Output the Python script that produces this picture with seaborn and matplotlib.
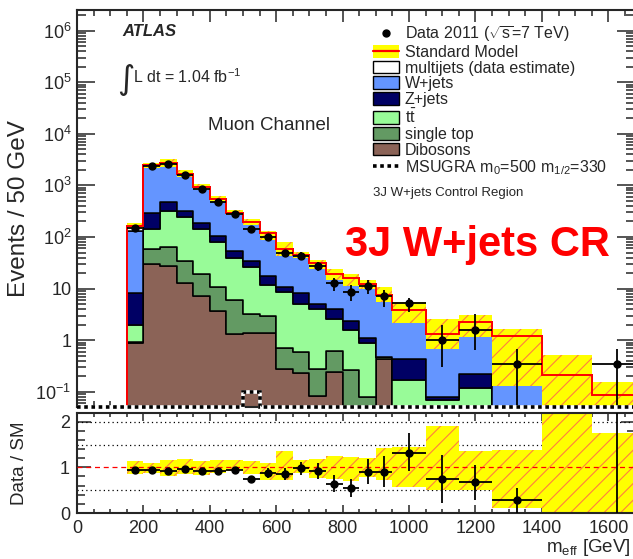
import numpy as np
import pandas as pd
import matplotlib
matplotlib.use("Agg")
import matplotlib.pyplot as plt
import seaborn as sns
from matplotlib.patches import Patch
from matplotlib.lines import Line2D
from matplotlib.ticker import FixedLocator, FixedFormatter, MultipleLocator, LogLocator, NullFormatter

# ---------------- data ----------------
edges = [150, 200, 250, 300, 350, 400, 450, 500, 550, 600, 650, 700, 750,
         800, 850, 900, 950, 1050, 1150, 1250, 1400, 1550, 1700]

dibosons   = [0.9, 30, 27, 12.8, 7.2, 3.7, 1.35, 1.37, 1.37, 0.28, 0.23, 0.082,
              0.24, 0, 0, 0.43, 0, 0, 0, 0, 0, 0]
single_top = [0.02, 28, 37, 21.2, 12.2, 6.9, 4.55, 1.93, 1.53, 0.42, 0.37, 0.198,
              0.37, 0.27, 0.08, 0.04, 0, 0, 0, 0, 0, 0]
ttbar      = [1.08, 85, 261, 213, 125.6, 68.4, 34.1, 22.7, 8.8, 7.9, 4.4, 3.82,
              1.99, 1.33, 0.82, 0, 0.17, 0.07, 0.12, 0, 0, 0]
zjets      = [6.3, 146, 160, 78, 45, 26, 13, 8, 5.6, 2.4, 3.3, 0.9,
              1.5, 0.77, 0.2, 0, 0.27, 0.01, 0.105, 0, 0, 0]
wjets      = [122.7, 2211, 2285, 1375, 760, 435, 243, 161, 100.7, 48, 36.7, 26,
              15.5, 13.63, 11.4, 7.03, 3.36, 1.27, 2.045, 1.2, 0.21, 0.088]
multijets  = [32, 0, 0, 0, 0, 0, 0, 0, 0, 0, 0, 0,
              0, 0, 0, 0, 0, 0, 0, 0, 0, 0]

# relative SM uncertainty band
band_up = [1.13, 1.10, 1.16, 1.19, 1.14, 1.15, 1.15, 1.13, 1.09, 1.35, 1.16, 1.18,
           1.25, 1.22, 1.20, 1.43, 1.45, 1.91, 1.35, 1.38, 2.43, 1.76]
band_dn = [0.86, 0.87, 0.81, 0.86, 0.84, 0.87, 0.91, 0.86, 0.73, 0.73, 0.87, 0.76,
           0.74, 0.69, 0.79, 0.73, 0.57, 0.51, 0.51, 0.11, 0.0, 0.0]

# data (events / 50 GeV), NaN = no entry
data    = [150, 2350, 2570, 1620, 845, 485, 275, 143, 100, 50, 43.6, 27.7,
           12.6, 8.7, 11.4, 7.1, 5.2, 1.0, 1.56, 0.34, np.nan, 0.34]
data_lo = [12, 48, 51, 40, 29, 22, 17, 12, 10, 7, 6.6, 5.3,
           3.4, 3.0, 3.4, 2.7, 1.7, 0.7, 0.9, 0.339, np.nan, 0.339]
data_hi = [12, 48, 51, 40, 29, 22, 17, 12, 10, 7, 6.6, 5.3,
           3.6, 3.2, 3.6, 2.2, 1.3, 0.96, 1.7, 0.33, np.nan, 0.33]

# Data / SM
ratio    = [0.945, 0.95, 0.93, 0.97, 0.92, 0.92, 0.95, 0.74, 0.87, 0.86, 0.98, 0.92,
            0.64, 0.545, 0.90, 0.90, 1.32, 0.75, 0.67, 0.28, np.nan, 3.9]
ratio_lo = [0.03, 0.02, 0.02, 0.025, 0.03, 0.04, 0.05, 0.05, 0.11, 0.13, 0.14, 0.17,
            0.19, 0.2, 0.27, 0.34, 0.41, 0.53, 0.38, 0.28, np.nan, 3.9]
ratio_hi = [0.03, 0.02, 0.02, 0.025, 0.03, 0.04, 0.05, 0.05, 0.11, 0.13, 0.14, 0.17,
            0.19, 0.2, 0.28, 0.34, 0.44, 0.52, 0.38, 0.27, np.nan, 4.0]

# MSUGRA signal (edges / values)
sig_edges = [0, 500, 550, 1700]
sig_vals  = [0.0, 0.1, 0.0]

processes = ["multijets (data estimate)", "W+jets", "Z+jets", r"t$\bar{\rm t}$",
             "single top", "Dibosons"]
colors = {"multijets (data estimate)": "#ffffff", "W+jets": "#6495ff",
          "Z+jets": "#000064", r"t$\bar{\rm t}$": "#98fb98",
          "single top": "#639a63", "Dibosons": "#8b6357"}

# ---------------- style ----------------
sns.set_style("ticks")
plt.rcParams["font.family"] = ["Liberation Sans", "DejaVu Sans"]
plt.rcParams["mathtext.fontset"] = "custom"
plt.rcParams["mathtext.rm"] = "Liberation Sans"
plt.rcParams["mathtext.it"] = "Liberation Sans:italic"
plt.rcParams["mathtext.bf"] = "Liberation Sans:bold"
plt.rcParams["hatch.linewidth"] = 0.8
plt.rcParams["hatch.color"] = "#ff7f3f"

W, H = 633, 559
fig = plt.figure(figsize=(W / 100, H / 100), dpi=100)
axL, axR = 77 / W, 1.003
ax = fig.add_axes([axL, 1 - 407 / H, axR - axL, 397 / H])
rx = fig.add_axes([axL, 1 - 513 / H, axR - axL, 100 / H])

edges_a = np.array(edges, float)
centers = 0.5 * (edges_a[1:] + edges_a[:-1])
halfw = 0.5 * (edges_a[1:] - edges_a[:-1])

ax.set_yscale("log")
ymin, ymax = 0.051, 2.5e6
ax.set_ylim(ymin, ymax)
xmax = 1680
ax.set_xlim(0, xmax)

# stacked MC with seaborn
comp = {"multijets (data estimate)": multijets, "W+jets": wjets, "Z+jets": zjets,
        r"t$\bar{\rm t}$": ttbar, "single top": single_top, "Dibosons": dibosons}
rows = []
for p in processes:
    for c, v in zip(centers, comp[p]):
        rows.append({"x": c, "w": v, "proc": p})
df = pd.DataFrame(rows)
sns.histplot(data=df, x="x", weights="w", hue="proc", hue_order=processes,
             bins=edges, multiple="stack", element="step", fill=True,
             palette=colors, alpha=1, edgecolor="black", linewidth=1.1,
             legend=False, ax=ax, zorder=1)

sm = np.sum([np.array(comp[p], float) for p in processes], axis=0)
up = sm * np.array(band_up)
dn = sm * np.array(band_dn)
ax.stairs(up, edges_a, baseline=dn, fill=True, facecolor="#ffff00",
          edgecolor="#ff7f3f", hatch="//", linewidth=0, zorder=2)
ax.stairs(sm, edges_a, baseline=0, color="#ff0000", linewidth=1.4, zorder=3)

d = np.array(data, float)
ax.errorbar(centers, d, xerr=halfw, yerr=[data_lo, data_hi], fmt="o",
            color="black", ms=5, elinewidth=1.3, capsize=0, zorder=5)

# signal (white/black dashed)
sv = np.clip(np.array(sig_vals), ymin, None)
ax.stairs(sv, sig_edges, baseline=None, color="white", linewidth=2.6,
          zorder=6, clip_on=False)
ax.stairs(sv, sig_edges, baseline=None, color="black", linewidth=2.6,
          linestyle=(0, (1.0, 1.0)), zorder=7, clip_on=False)

# axes formatting (main)
dec = [0.1, 1, 10, 100, 1e3, 1e4, 1e5, 1e6]
declab = [r"$10^{-1}$", "1", "10", r"$10^{2}$", r"$10^{3}$", r"$10^{4}$",
          r"$10^{5}$", r"$10^{6}$"]
ax.yaxis.set_major_locator(FixedLocator(dec))
ax.yaxis.set_major_formatter(FixedFormatter(declab))
ax.yaxis.set_minor_locator(LogLocator(base=10, subs=np.arange(2, 10), numticks=30))
ax.yaxis.set_minor_formatter(NullFormatter())
ax.xaxis.set_major_locator(MultipleLocator(200))
ax.xaxis.set_minor_locator(MultipleLocator(50))
ax.tick_params(axis="both", which="both", direction="in", top=True, right=True,
               labelbottom=False, width=1.1)
ax.tick_params(axis="y", which="major", length=13, labelsize=13, pad=4)
ax.tick_params(axis="y", which="minor", length=6.5)
ax.tick_params(axis="x", which="major", length=8.5)
ax.tick_params(axis="x", which="minor", length=4.3)
for s in ax.spines.values():
    s.set_linewidth(1.5)
ax.set_ylabel("Events / 50 GeV", fontsize=17.5)
ax.yaxis.set_label_coords(-0.085, 0.5)

# ratio panel
rx.set_xlim(0, xmax)
rx.set_ylim(0, 2.19)
for yv in [0.5, 1.5, 2.0]:
    rx.axhline(yv, color="black", linestyle=(0, (1, 2.5)), linewidth=0.9, zorder=1)
rup = np.array(band_up)
rdn = np.array(band_dn)
rx.stairs(rup, edges_a, baseline=rdn, fill=True, facecolor="#ffff00",
          edgecolor="#ff7f3f", hatch="//", linewidth=0, zorder=2)
rx.axhline(1.0, color="#ff0000", linestyle=(0, (4, 3)), linewidth=0.9, zorder=3)
rx.errorbar(centers, ratio, xerr=halfw, yerr=[ratio_lo, ratio_hi], fmt="o",
            color="black", ms=5, elinewidth=1.3, capsize=0, zorder=5)
rx.xaxis.set_major_locator(MultipleLocator(200))
rx.xaxis.set_minor_locator(MultipleLocator(50))
rx.yaxis.set_major_locator(FixedLocator([0, 1, 2]))
rx.yaxis.set_minor_locator(MultipleLocator(0.2))
rx.tick_params(axis="both", which="both", direction="in", top=True, right=True,
               width=1.1)
rx.tick_params(axis="y", which="major", length=10, labelsize=13, pad=5)
rx.tick_params(axis="y", which="minor", length=5.5)
rx.tick_params(axis="x", which="major", length=5.5, labelsize=13, pad=5)
rx.tick_params(axis="x", which="minor", length=3)
for s in rx.spines.values():
    s.set_linewidth(1.5)
rx.set_ylabel("Data / SM", fontsize=13.5)
rx.yaxis.set_label_coords(-0.088, 0.5)

# texts
def fx(px):
    return px / W

def fy(py):
    return 1 - py / H

fig.text(fx(122), fy(31), "ATLAS", fontsize=12, fontweight="bold",
         fontstyle="italic", va="center", ha="left")
fig.text(fx(126), fy(80), "\u222b", fontsize=24, family=["DejaVu Sans"],
         va="center", ha="center")
fig.text(fx(133), fy(77), r"L dt = 1.04 fb$^{-1}$", fontsize=11.5,
         va="center", ha="left")
fig.text(fx(208), fy(125), "Muon Channel", fontsize=13.5, va="center", ha="left")
fig.text(fx(373), fy(193), "3J W+jets Control Region", fontsize=9.5,
         va="center", ha="left")
fig.text(fx(345), fy(245), "3J W+jets CR", fontsize=30, fontweight="bold",
         color="#ff0000", va="center", ha="left")
fig.text(fx(631), fy(548), r"m$_{\rm eff}$ [GeV]", fontsize=13.5,
         va="center", ha="right")

# legend
handles = [
    Line2D([], [], marker="o", color="black", linestyle="none", ms=5),
    (Patch(facecolor="#ffff00", edgecolor="none"),
     Line2D([], [], color="#ff0000", linewidth=1.6)),
]
labels = [r"Data 2011 ($\sqrt{\rm s}$=7 TeV)", "Standard Model"]
for p in processes:
    handles.append(Patch(facecolor=colors[p], edgecolor="black", linewidth=1.0))
    labels.append(p)
handles.append(Line2D([], [], color="black", linestyle=(0, (1, 1)), linewidth=2.6))
labels.append(r"MSUGRA m$_0$=500 m$_{1/2}$=330")
fig.legend(handles, labels, loc="upper left", bbox_to_anchor=(fx(373), fy(24)),
           frameon=False, fontsize=11.5, labelspacing=0.05, handlelength=1.65,
           handleheight=0.85, handletextpad=0.35, borderpad=0, borderaxespad=0)

fig.savefig("out.png", dpi=100)
